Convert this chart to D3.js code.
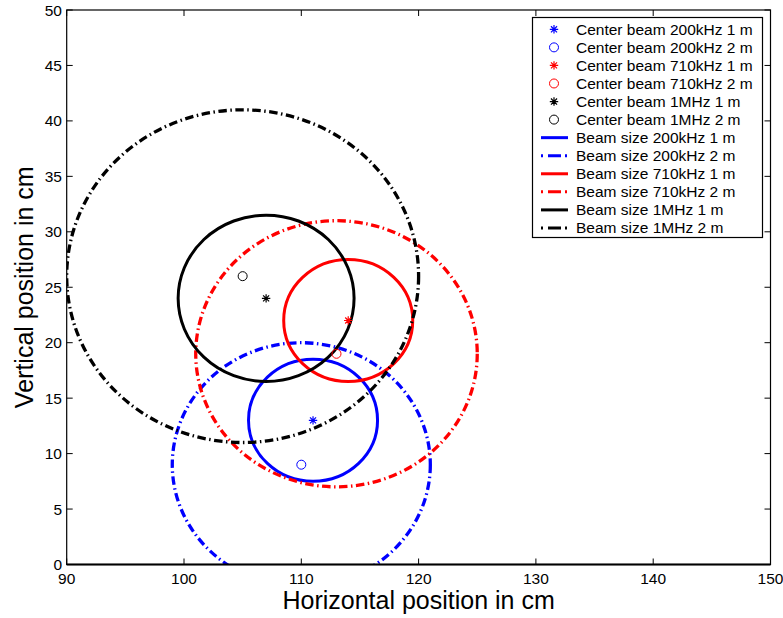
<!DOCTYPE html>
<html>
<head>
<meta charset="utf-8">
<script src="https://cdn.jsdelivr.net/npm/d3@7"></script>
<style>
  body { margin: 0; background: #fff; }
  text { font-family: "Liberation Sans", Arial, Helvetica, sans-serif; }
</style>
</head>
<body>
<svg id="chart" width="783" height="618"></svg>
<script>
// ---- data ----
const xTicks = [90, 100, 110, 120, 130, 140, 150];
const yTicks = [0, 5, 10, 15, 20, 25, 30, 35, 40, 45, 50];

// center markers: [x, y]
const centerLabels = ["Center beam 200kHz 1 m", "Center beam 200kHz 2 m",
  "Center beam 710kHz 1 m", "Center beam 710kHz 2 m",
  "Center beam 1MHz 1 m", "Center beam 1MHz 2 m"];
const centerX = [111, 110, 114, 113, 107, 105];
const centerY = [13, 9, 22, 19, 24, 26];
const centerColor = ["#0000ff", "#0000ff", "#ff0000", "#ff0000", "#000000", "#000000"];
const centerShape = ["star", "circle", "star", "circle", "star", "circle"];

// beam size circles: center x, center y, radius (cm)
const beamLabels = ["Beam size 200kHz 1 m", "Beam size 200kHz 2 m",
  "Beam size 710kHz 1 m", "Beam size 710kHz 2 m",
  "Beam size 1MHz 1 m", "Beam size 1MHz 2 m"];
const beamX = [111, 110, 114, 113, 107, 105];
const beamY = [13, 9, 22, 19, 24, 26];
const beamR = [5.5, 11, 5.5, 12, 7.5, 15];
const beamColor = ["#0000ff", "#0000ff", "#ff0000", "#ff0000", "#000000", "#000000"];
const beamDashed = [false, true, false, true, false, true];

// ---- layout ----
const svg = d3.select("#chart");
const L = 66.7, R = 770.5, T = 10, B = 564.5;
const x = d3.scaleLinear().domain([90, 150]).range([L, R]);
const y = d3.scaleLinear().domain([0, 50]).range([B, T]);
const dashPattern = "8.5,3.5,1.5,3.5";
const fontSize = 15.5;

svg.append("defs").append("clipPath").attr("id", "clip")
  .append("rect").attr("x", L).attr("y", T).attr("width", R - L).attr("height", B - T);

svg.append("rect").attr("x", L).attr("y", T).attr("width", R - L).attr("height", B - T)
  .attr("fill", "#fff").attr("stroke", "none");

const plot = svg.append("g").attr("clip-path", "url(#clip)");

// beam circles
beamX.forEach((cx, i) => {
  plot.append("ellipse")
    .attr("cx", x(cx)).attr("cy", y(beamY[i]))
    .attr("rx", x(cx + beamR[i]) - x(cx))
    .attr("ry", y(beamY[i]) - y(beamY[i] + beamR[i]))
    .attr("fill", "none")
    .attr("stroke", beamColor[i])
    .attr("stroke-width", beamDashed[i] ? 3.3 : 3)
    .attr("stroke-dasharray", beamDashed[i] ? dashPattern : null);
});

function drawMarker(g, shape, px, py, color) {
  if (shape === "circle") {
    g.append("circle").attr("cx", px).attr("cy", py).attr("r", 4.5)
      .attr("fill", "none").attr("stroke", color).attr("stroke-width", 1);
  } else {
    const s = 4.2;
    const d = s * 0.72;
    const p = `M${px - s},${py}L${px + s},${py}M${px},${py - s}L${px},${py + s}` +
      `M${px - d},${py - d}L${px + d},${py + d}M${px - d},${py + d}L${px + d},${py - d}`;
    g.append("path").attr("d", p).attr("stroke", color).attr("stroke-width", 1.2).attr("fill", "none");
  }
}

centerX.forEach((cx, i) => drawMarker(plot, centerShape[i], x(cx), y(centerY[i]), centerColor[i]));

// axes lines & ticks
const axesG = svg.append("g");
axesG.append("rect").attr("x", L).attr("y", T).attr("width", R - L).attr("height", B - T)
  .attr("fill", "none").attr("stroke", "#000").attr("stroke-width", 1.2);
axesG.append("line").attr("x1", L).attr("x2", R).attr("y1", B).attr("y2", B)
  .attr("stroke", "#000").attr("stroke-width", 2);
const tl = 6;
xTicks.forEach(t => {
  axesG.append("line").attr("x1", x(t)).attr("x2", x(t)).attr("y1", B).attr("y2", B - tl).attr("stroke", "#000");
  axesG.append("line").attr("x1", x(t)).attr("x2", x(t)).attr("y1", T).attr("y2", T + tl).attr("stroke", "#000");
  axesG.append("text").attr("x", x(t)).attr("y", 584).attr("text-anchor", "middle")
    .attr("font-size", fontSize).text(t);
});
yTicks.forEach(t => {
  axesG.append("line").attr("x1", L).attr("x2", L + tl).attr("y1", y(t)).attr("y2", y(t)).attr("stroke", "#000");
  axesG.append("line").attr("x1", R).attr("x2", R - tl).attr("y1", y(t)).attr("y2", y(t)).attr("stroke", "#000");
  axesG.append("text").attr("x", 62).attr("y", y(t) + 5.5).attr("text-anchor", "end")
    .attr("font-size", fontSize).text(t);
});

// axis titles
svg.append("text").attr("x", (L + R) / 2).attr("y", 609).attr("text-anchor", "middle")
  .attr("font-size", 25).text("Horizontal position in cm");
svg.append("text").attr("transform", `translate(33,${(T + B) / 2}) rotate(-90)`)
  .attr("text-anchor", "middle").attr("font-size", 25).text("Vertical position in cm");

// legend
const lg = svg.append("g");
lg.append("rect").attr("x", 532.5).attr("y", 17.5).attr("width", 230).attr("height", 220)
  .attr("fill", "#fff").attr("stroke", "#000").attr("stroke-width", 1.2);
const rowY = i => 29.3 + i * 18.06;
centerLabels.forEach((lab, i) => {
  drawMarker(lg, centerShape[i], 554, rowY(i), centerColor[i]);
  lg.append("text").attr("x", 576).attr("y", rowY(i) + 5.5).attr("font-size", fontSize).text(lab);
});
beamLabels.forEach((lab, j) => {
  const i = j + 6;
  lg.append("line").attr("x1", 541).attr("x2", 568).attr("y1", rowY(i)).attr("y2", rowY(i))
    .attr("stroke", beamColor[j]).attr("stroke-width", 3)
    .attr("stroke-dasharray", beamDashed[j] ? "2,5,13,4,2,50" : null);
  lg.append("text").attr("x", 576).attr("y", rowY(i) + 5.5).attr("font-size", fontSize).text(lab);
});
</script>
</body>
</html>
